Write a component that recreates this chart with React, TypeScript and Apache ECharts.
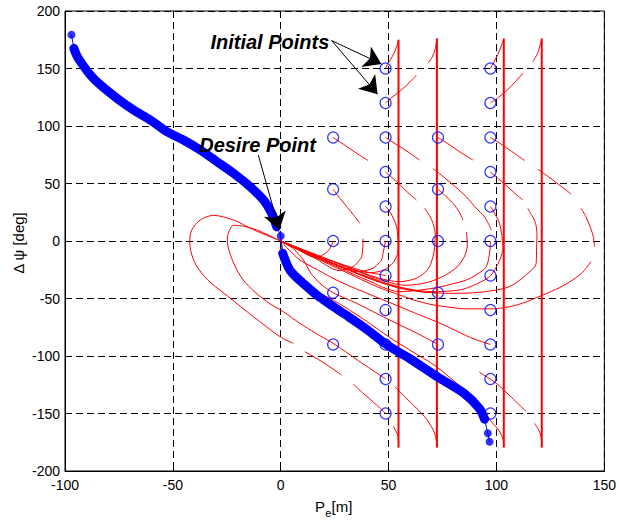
import React, { useEffect, useRef } from "react";
import * as echarts from "echarts";

// Initial states (Pe [m], Δψ [deg]) marked with hollow circles
const initialPe = [
  24.3, 24.3, 24.3, 24.3, 24.3,
  48.6, 48.6, 48.6, 48.6, 48.6, 48.6, 48.6, 48.6, 48.6, 48.6, 48.6,
  72.9, 72.9, 72.9, 72.9, 72.9,
  97.2, 97.2, 97.2, 97.2, 97.2, 97.2, 97.2, 97.2, 97.2, 97.2, 97.2,
];
const initialDpsi = [
  90, 45, 0, -45, -90,
  150, 120, 90, 60, 30, 0, -30, -60, -90, -120, -150,
  90, 45, 0, -45, -90,
  150, 120, 90, 60, 30, 0, -30, -60, -90, -120, -150,
];

// Desired path (blue), dense upper and lower branches
const blueUpperPe = [-95.9, -94.5, -92.8, -88.2, -83.6, -75.9, -68.2, -60.5, -52.7, -45.1, -37.3, -29.6, -21.9, -14.2, -8, -4.2, -1.9];
const blueUpperDpsi = [167.5, 161, 155.9, 144.3, 135.7, 124.1, 113.9, 105.2, 95, 87.8, 79.1, 69, 58.9, 47.2, 35.7, 24.1, 12.4];
const blueLowerPe = [0.9, 2.8, 4.5, 7.5, 10.5, 16.7, 22.8, 30, 40, 48.6, 55, 60, 72.9, 85, 92, 94.5];
const blueLowerDpsi = [-10.7, -20, -26, -32, -37, -47, -55, -64, -77, -89.5, -97, -102.5, -118.5, -132.5, -145.5, -155];
// Sparse samples at the ends and at the desire point
const blueDotPe = [-97, 0, 96, 96.8];
const blueDotDpsi = [179.4, 4.3, -167.2, -174.5];

// Trajectories climbing to +180 deg before wrapping
const climbToWrap = [
  [[48.6, 150], [49.4, 153.5], [51, 158], [52.4, 163], [53.7, 169], [54.6, 175]],
  [[48.6, 120], [52, 125.5], [56, 131.5], [60, 138.5], [62.9, 144.3]],
  [[68.3, 154.5], [70.2, 160], [71.5, 166], [72.4, 176]],
  [[97.2, 150], [98, 153], [100.6, 162], [102.3, 170], [103.4, 176]],
  [[97.2, 120], [101, 125], [106, 133], [112.2, 145.8]],
  [[116.8, 155.9], [119, 163], [121, 176]],
];
// Angle wrap jumps (+180 -> -180)
const wrapPe = [54.6, 72.4, 103.4, 121];
const wrapTop = [175, 176, 176, 176];
const wrapBottom = [-179.5, -179.5, -179.5, -179.5];

// Continuation after the wrap
const afterWrap = [
  [[54.6, -179.5], [54.4, -170], [53.3, -165], [52.1, -161]],
  [[72.4, -179.5], [72, -172], [70.6, -164], [66.7, -152.8], [60, -140], [52.9, -126.7]],
  [[103.4, -179.5], [103, -172], [101, -164.3], [98.3, -158.5], [96, -153], [93.7, -144.1], [86, -131], [72.2, -109.3], [60, -95], [50.6, -84], [38, -67.5], [25, -52], [19.7, -47], [13, -40], [8.9, -33.9], [5, -26], [2.8, -19.4], [1, -9], [0, 0]],
  [[121, -179.5], [120.7, -170.2], [119.5, -164], [117.6, -158.5]],
  [[113.8, -148.4], [107, -136], [99.9, -123.7], [92, -114]],
];

// First part of the descent from the upper initial states
const earlyDescent = [
  [[24.3, 90], [30, 83], [35, 76.5], [40.5, 70]],
  [[48.6, 90], [54, 83.5], [59, 77.5], [64.4, 70.4]],
  [[70.6, 63], [76, 55], [81, 47], [86, 38.5], [89.9, 30], [92.5, 25], [94.5, 21], [96.3, 15], [97.6, 9.6]],
  [[72.9, 90], [78, 84], [83, 77.5], [89.1, 70.4]],
  [[97.2, 90], [102, 84.5], [107, 78], [113, 70]],
  [[119.2, 62.3], [124, 56], [129, 49], [134.6, 40.9]],
  [[48.6, 60], [52, 54.5], [55.5, 48.5], [59, 42], [62.9, 35.7]],
  [[97.2, 60], [101, 54], [105, 47.5], [108.5, 41.5], [112.2, 35.7]],
  [[24.3, 45], [27.5, 37], [31, 29], [34, 22], [36.7, 15.4]],
  [[72.9, 45], [76.5, 39], [80, 32.5], [82.5, 26], [84.5, 18.3]],
  [[48.6, 30], [50, 27], [52.2, 20], [53.7, 12.4], [54.3, 4], [54.4, -5]],
  [[97.2, 30], [98.3, 27], [100, 21], [101.4, 15.4], [102.5, 5], [103, -5]],
];

// Arcs that swing round and settle into the origin
const settling = [
  [[139.2, 28.4], [141.5, 21], [143.5, 12], [145, 3], [145.4, -5]],
  [[143.8, -18], [140, -27], [135.3, -33.9], [129.2, -40.5], [121.5, -47], [112.2, -54], [105.3, -57.5], [97, -59], [86, -59], [78, -57.5], [70.6, -55.5], [62, -51.5], [55.2, -47], [45, -40], [30, -27], [15, -13.5], [0, 0]],
  [[66.7, 28.4], [69, 22], [70.6, 15.4], [71.6, 6], [71.4, -5], [70.5, -14], [69, -22.3], [66.5, -28], [62.9, -32.4], [59, -34.5], [55.2, -35.4], [45, -32], [30, -22], [15, -11], [0, 0]],
  [[114.5, 28.4], [116.5, 22], [118.2, 15], [118.8, 5], [118.6, -5], [118.4, -19.4], [114, -29], [106, -39.7], [95, -44], [82.9, -45.5], [70, -45], [55, -41], [40, -32], [25, -20], [12, -9.5], [0, 0]],
  [[38.2, 2], [38, -6], [37.5, -13.7], [35.5, -19], [33.6, -22.3], [30, -24.5], [27.4, -25.8], [15, -14], [0, 0]],
  [[86, 8], [86.5, -2], [85.5, -12], [82, -22], [76, -30], [68, -36], [58, -38.5], [45, -33], [30, -22], [15, -11], [0, 0]],
  [[54.4, -5], [54, -12], [52, -19], [48, -25], [42, -27.5], [35, -26], [25, -20], [12, -10], [0, 0]],
  [[24.3, 0], [23.5, -4], [21.5, -9.5], [18, -13.5], [15.9, -14.2], [8, -7.5], [0, 0]],
  [[48.6, 0], [48.2, -3.5], [47.5, -10], [46.7, -16.5], [44.5, -21], [42.8, -23.7], [39, -25.8], [35.2, -26.7], [25, -20.5], [12, -10], [0, 0]],
  [[97.2, 0], [97, -8], [95.3, -22.3], [91, -29], [86, -33.9], [78, -38], [70.6, -41.1], [55.2, -44.1], [40, -34], [25, -21.5], [12, -10.5], [0, 0]],
  [[103, -5], [102.6, -11], [101.5, -16.5], [99.5, -24], [96.8, -31], [90, -38], [82.9, -42.6], [70, -44], [55, -40], [40, -31], [25, -20], [12, -9.5], [0, 0]],
  [[48.6, -30], [40, -27], [28, -20], [14, -10.5], [0, 0]],
  [[72.9, -45], [65, -44], [55, -40.5], [40, -31.5], [20, -16], [0, 0]],
];

// Approaches from below the desired path
const lowerApproach = [
  [[72.9, -90], [64, -81], [55.2, -73], [45, -63.5], [35, -54], [24.3, -45], [18.2, -36.8], [14, -28], [10.5, -16.5], [6, -7], [0, 0]],
  [[97.2, -90], [88, -84], [79, -76], [72.2, -70.2], [64, -64], [55.2, -57.1], [42, -47], [27.4, -35.4], [17, -25], [8.9, -16.5], [4, -8], [0, 0]],
];

// Trajectories that loop round the left of the origin
const loops = [
  [[48.6, -150], [44.4, -142.6], [38, -132], [33.6, -124.5]],
  [[28.2, -116.5], [20, -106], [11.2, -96.2]],
  [[5.8, -89], [-0.3, -83.2], [-12.7, -65.8], [-24.3, -48.4], [-32, -37], [-36, -29.5], [-39.5, -20], [-41.5, -10], [-42.2, 0], [-41.2, 9.6], [-37.3, 18.3], [-31.2, 22.3], [-21.9, 18.3], [-12.7, 9.8], [-5, 3.8], [0, 0]],
  [[48.6, -120], [36, -104], [24.3, -89], [16, -80], [8.9, -71.6], [1.2, -61.5], [-5, -54.5], [-11, -46], [-16, -37], [-19.5, -28], [-22.3, -17], [-24.3, -6], [-24.8, 2], [-23.8, 9], [-21.9, 13.6], [-17, 12.8], [-11.1, 9.6], [-5, 4.5], [0, 0]],
];

// Annotation anchors (data units)
const initialLabelAt = [-32.6, 173];
const initialArrowFrom = [23.6, 174.3];
const initialArrowTips = [[46.7, 153.9], [44.9, 127.6]];
const desireLabelAt = [-37.8, 83.7];
const desireArrowFrom = [-10.4, 74.8];
const desireArrowTip = [-0.6, 9.6];

const FONT = "'Liberation Sans', Arial, sans-serif";
const RED = "#ff0000";
const BLUE = "#0000ff";

const zip = (a: number[], b: number[]) => a.map((v, i) => [v, b[i]]);

function redSeries(seg: number[][], width = 1) {
  return {
    type: "line",
    data: seg,
    showSymbol: false,
    symbol: "none",
    smooth: 0.3,
    silent: true,
    z: 2,
    lineStyle: { color: RED, width },
  };
}

export default function App() {
  const ref = useRef<HTMLDivElement>(null);

  useEffect(() => {
    if (!ref.current) return;
    const chart = echarts.init(ref.current, null, { renderer: "svg" });

    const redSegs = [
      ...climbToWrap,
      ...afterWrap,
      ...earlyDescent,
      ...settling,
      ...lowerApproach,
      ...loops,
    ].map((s) => redSeries(s));

    const wrapSegs = wrapPe.map((pe, i) => ({
      type: "line",
      data: [[pe, wrapTop[i]], [pe, wrapBottom[i]]],
      showSymbol: false,
      symbol: "none",
      silent: true,
      z: 2,
      lineStyle: { color: RED, width: 2 },
    }));

    const allBlue = [
      [blueDotPe[0], blueDotDpsi[0]],
      ...zip(blueUpperPe, blueUpperDpsi),
      [blueDotPe[1], blueDotDpsi[1]],
      ...zip(blueLowerPe, blueLowerDpsi),
      [blueDotPe[2], blueDotDpsi[2]],
      [blueDotPe[3], blueDotDpsi[3]],
    ];

    const blueBand = (data: number[][]) => ({
      type: "line",
      data,
      showSymbol: false,
      symbol: "none",
      smooth: 0.3,
      silent: true,
      z: 4,
      lineStyle: { color: BLUE, width: 9, cap: "round", join: "round" },
    });

    const option: any = {
      animation: false,
      backgroundColor: "#ffffff",
      grid: {
        left: 65,
        right: 14,
        top: 11,
        bottom: 49,
        show: true,
        borderColor: "#000",
        borderWidth: 1,
        backgroundColor: "#fff",
      },
      xAxis: {
        type: "value",
        min: -100,
        max: 150,
        interval: 50,
        axisLine: { show: true, onZero: false, lineStyle: { color: "#000", width: 1 } },
        axisTick: { show: true, inside: true, length: 5, lineStyle: { color: "#000" } },
        axisLabel: { color: "#000", fontSize: 14, fontFamily: FONT, margin: 7 },
        splitLine: { show: true, lineStyle: { color: "#000", width: 1, type: [7, 4] } },
      },
      yAxis: {
        type: "value",
        min: -200,
        max: 200,
        interval: 50,
        axisLine: { show: true, onZero: false, lineStyle: { color: "#000", width: 1 } },
        axisTick: { show: true, inside: true, length: 5, lineStyle: { color: "#000" } },
        axisLabel: { color: "#000", fontSize: 14, fontFamily: FONT, margin: 5 },
        splitLine: { show: true, lineStyle: { color: "#000", width: 1, type: [7, 4] } },
      },
      series: [
        ...redSegs,
        ...wrapSegs,
        {
          type: "scatter",
          data: zip(initialPe, initialDpsi),
          symbol: "circle",
          symbolSize: 11,
          silent: true,
          z: 3,
          itemStyle: { color: "rgba(0,0,0,0)", borderColor: BLUE, borderWidth: 1.2 },
        },
        {
          type: "line",
          data: allBlue,
          showSymbol: false,
          symbol: "none",
          silent: true,
          z: 4,
          lineStyle: { color: BLUE, width: 1 },
        },
        blueBand(zip(blueUpperPe, blueUpperDpsi)),
        blueBand(zip(blueLowerPe, blueLowerDpsi)),
        {
          type: "scatter",
          data: zip(blueDotPe, blueDotDpsi),
          symbol: "circle",
          symbolSize: 8,
          silent: true,
          z: 4,
          itemStyle: { color: BLUE },
        },
        {
          type: "lines",
          coordinateSystem: "cartesian2d",
          silent: true,
          z: 6,
          symbol: ["none", "arrow"],
          symbolSize: 17,
          lineStyle: { color: "#000", width: 1, opacity: 1, curveness: 0 },
          itemStyle: { color: "#000" },
          data: [
            { coords: [initialArrowFrom, initialArrowTips[0]] },
            { coords: [initialArrowFrom, initialArrowTips[1]] },
            { coords: [desireArrowFrom, desireArrowTip] },
          ],
        },
      ],
    };

    chart.setOption(option);

    const px = (p: number[]) => chart.convertToPixel({ gridIndex: 0 }, p) as number[];
    const ip = px(initialLabelAt);
    const dp = px(desireLabelAt);
    const titleStyle = { fontFamily: FONT, fontSize: 15, fill: "#000" };

    chart.setOption({
      graphic: [
        {
          type: "text",
          x: ip[0],
          y: ip[1],
          z: 10,
          style: {
            text: "Initial Points",
            fontFamily: FONT,
            fontSize: 20,
            fontWeight: "bold",
            fontStyle: "italic",
            fill: "#000",
            align: "left",
            verticalAlign: "middle",
          },
        },
        {
          type: "text",
          x: dp[0],
          y: dp[1],
          z: 10,
          style: {
            text: "Desire Point",
            fontFamily: FONT,
            fontSize: 20,
            fontWeight: "bold",
            fontStyle: "italic",
            fill: "#000",
            align: "left",
            verticalAlign: "middle",
          },
        },
        {
          type: "text",
          x: 18,
          y: 243,
          rotation: Math.PI / 2,
          style: { ...titleStyle, text: "Δ ψ [deg]", align: "center", verticalAlign: "middle" },
        },
        {
          type: "text",
          x: 315,
          y: 506.5,
          style: { ...titleStyle, text: "P", align: "left", verticalAlign: "middle" },
        },
        {
          type: "text",
          x: 325.3,
          y: 513,
          style: { ...titleStyle, fontSize: 11, text: "e", align: "left", verticalAlign: "middle" },
        },
        {
          type: "text",
          x: 331.5,
          y: 506.5,
          style: { ...titleStyle, text: "[m]", align: "left", verticalAlign: "middle" },
        },
      ],
    });

    return () => chart.dispose();
  }, []);

  return (
    <div
      ref={ref}
      style={{ position: "fixed", left: 0, top: 0, width: 619, height: 520, background: "#fff" }}
    />
  );
}
